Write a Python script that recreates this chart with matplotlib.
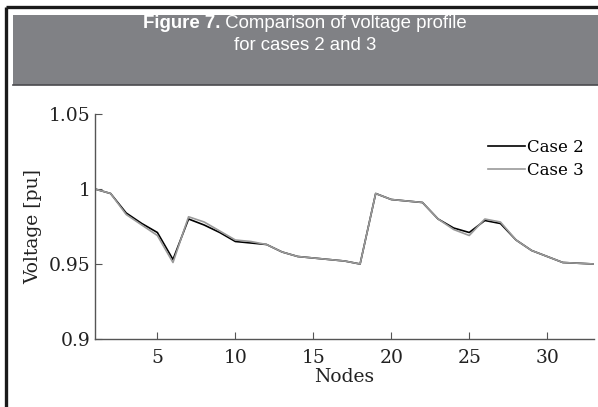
import matplotlib

matplotlib.use("Agg")
import matplotlib.pyplot as plt
from matplotlib.lines import Line2D
from matplotlib.patches import Rectangle

W, H = 598, 407

nodes = list(range(1, 34))
case2 = [1.000, 0.997, 0.984, 0.977, 0.971, 0.953, 0.980, 0.976, 0.971, 0.965,
         0.964, 0.963, 0.958, 0.955, 0.954, 0.953, 0.952, 0.950, 0.997, 0.993,
         0.992, 0.991, 0.980, 0.974, 0.971, 0.979, 0.977, 0.966, 0.959, 0.955,
         0.951, 0.9505, 0.950]
case3 = [1.000, 0.997, 0.983, 0.976, 0.969, 0.951, 0.9815, 0.978, 0.972, 0.966,
         0.965, 0.963, 0.958, 0.955, 0.954, 0.953, 0.952, 0.950, 0.997, 0.993,
         0.992, 0.991, 0.980, 0.973, 0.969, 0.980, 0.978, 0.966, 0.959, 0.955,
         0.951, 0.9505, 0.950]
series_labels = ["Case 2", "Case 3"]
x_ticks = [5, 10, 15, 20, 25, 30]
y_ticks = [0.9, 0.95, 1.0, 1.05]
y_tick_labels = ["0.9", "0.95", "1", "1.05"]
title_bold = "Figure 7."
title_line1 = " Comparison of voltage profile"
title_line2 = "for cases 2 and 3"


def px(x0, y0, x1, y1):
    # pixel box (top-left origin) -> figure fraction rect
    return [x0 / W, 1 - y1 / H, (x1 - x0) / W, (y1 - y0) / H]


fig = plt.figure(figsize=(W / 100, H / 100), dpi=100)
fig.patch.set_facecolor("white")

# header band and frame
fig.add_artist(Rectangle((13 / W, 1 - 85 / H), (W - 13) / W, 70 / H,
                         transform=fig.transFigure, facecolor="#808185",
                         edgecolor="none"))
fig.add_artist(Line2D([13 / W, 1], [1 - 85 / H] * 2, transform=fig.transFigure,
                      color="#4a4a4e", lw=1.2))
fig.add_artist(Line2D([6 / W, 6 / W], [0, 1 - 7 / H], transform=fig.transFigure,
                      color="#1a1a1a", lw=2.4, solid_capstyle="butt"))
fig.add_artist(Line2D([6 / W, 1], [1 - 7 / H] * 2, transform=fig.transFigure,
                      color="#1a1a1a", lw=2.4, solid_capstyle="butt"))

tkw = dict(color="white", fontsize=13.4, family="Liberation Sans", va="center")
fig.canvas.draw()
r = fig.canvas.get_renderer()
tb = fig.text(0, 0, title_bold, fontweight="bold", **tkw)
tr = fig.text(0, 0, title_line1, **tkw)
wb = tb.get_window_extent(r).width
wr = tr.get_window_extent(r).width
cx = 305
start = cx - (wb + wr) / 2
tb.set_position((start / W, 1 - 23 / H))
tr.set_position(((start + wb) / W, 1 - 23 / H))
fig.text(cx / W, 1 - 45 / H, title_line2, ha="center", **tkw)

ax = fig.add_axes(px(95, 114, 594, 339))
ax.plot(nodes, case2, color="black", lw=1.2, label=series_labels[0])
ax.plot(nodes, case3, color="#9a9a9a", lw=1.2, label=series_labels[1])

ax.set_xlim(1, 33)
ax.set_ylim(0.9, 1.05)
ax.set_xticks(x_ticks)
ax.set_yticks(y_ticks)
ax.set_yticklabels(y_tick_labels)
for s in ["top", "right"]:
    ax.spines[s].set_visible(False)
for s in ["left", "bottom"]:
    ax.spines[s].set_color("#555555")
    ax.spines[s].set_linewidth(1.0)
ax.tick_params(direction="in", length=5, width=0.8, color="#555555",
               labelsize=13.5, labelcolor="#222222")
ax.tick_params(axis="x", pad=7)
ax.tick_params(axis="y", pad=3)
for lab in ax.get_xticklabels() + ax.get_yticklabels():
    lab.set_family("DejaVu Serif")

ax.set_xlabel("Nodes", family="DejaVu Serif", fontsize=13.5, color="#222222",
              labelpad=1)
ax.set_ylabel("Voltage [pu]", family="DejaVu Serif", fontsize=13.5,
              color="#222222", labelpad=5)

ax.legend(loc="upper left", bbox_to_anchor=(480 / W, 1 - 131 / H),
          bbox_transform=fig.transFigure, frameon=False, borderpad=0,
          handlelength=2.2, handletextpad=0.1, labelspacing=0.35,
          prop=dict(family="DejaVu Serif", size=12))

fig.savefig("out.png", dpi=100)
plt.close(fig)
